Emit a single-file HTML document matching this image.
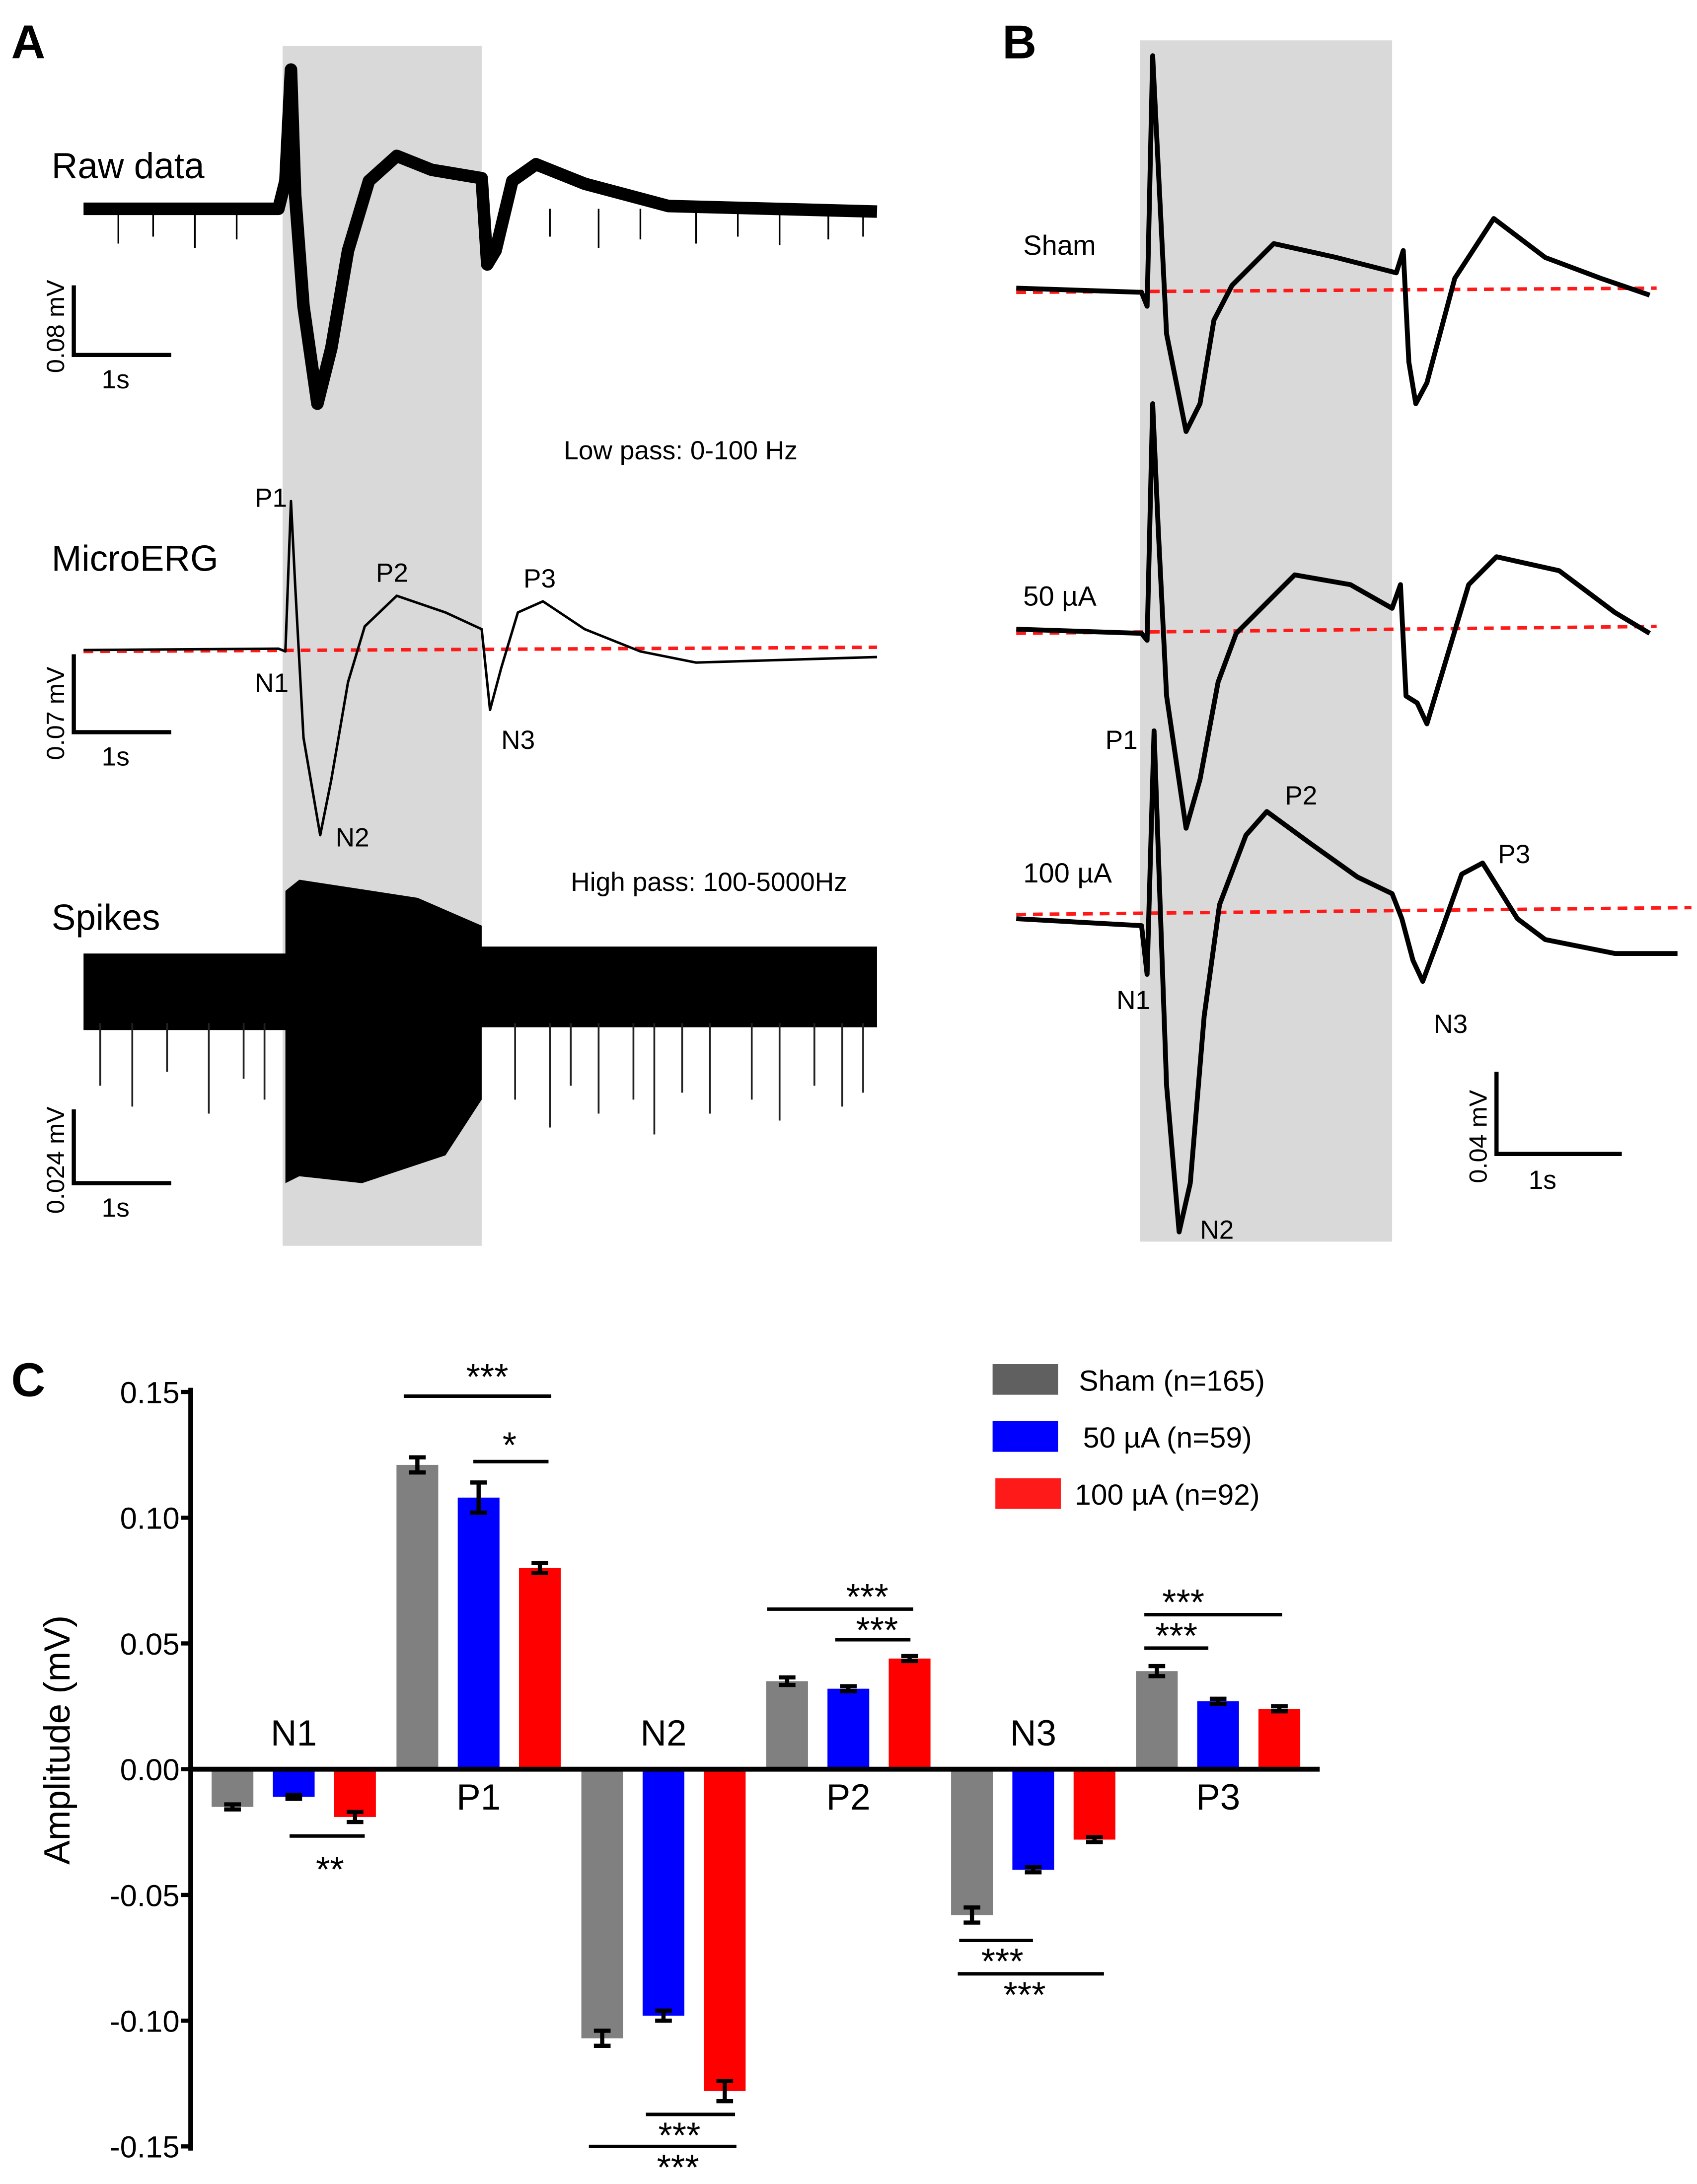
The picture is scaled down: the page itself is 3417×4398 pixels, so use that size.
<!DOCTYPE html>
<html><head><meta charset="utf-8"><style>
html,body{margin:0;padding:0;background:#fff}
svg{display:block}
text{font-family:"Liberation Sans",Arial,sans-serif;fill:#000}
</style></head><body>
<svg id="fig" width="3417" height="4398" viewBox="0 0 1219 1569" xmlns="http://www.w3.org/2000/svg">
<rect width="1219" height="1569" fill="#fff"/>
<g id="panelA">
<text x="8" y="42" font-size="34" font-weight="bold">A</text>
<rect x="203" y="33" width="143" height="862" fill="#d9d9d9"/>
<text x="37" y="128" font-size="26">Raw data</text>
<text x="37" y="410" font-size="26">MicroERG</text>
<text x="37" y="668" font-size="26">Spikes</text>
<text x="405" y="330" font-size="19">Low pass: 0-100 Hz</text>
<text x="410" y="640" font-size="19">High pass: 100-5000Hz</text>
<text x="183" y="364" font-size="19">P1</text>
<text x="183" y="497" font-size="19">N1</text>
<text x="270" y="418" font-size="19">P2</text>
<text x="241" y="608" font-size="19">N2</text>
<text x="376" y="422" font-size="19">P3</text>
<text x="360" y="538" font-size="19">N3</text>
<g id="rawTrace"></g>
<g id="ergTrace"></g>
<g id="spikeTrace"></g>
<g stroke="#000" stroke-width="3" fill="none">
<path d="M53,205 V255 H123"/><path d="M53,470 V526 H123"/><path d="M53,797 V850 H123"/>
</g>
<text x="73" y="279" font-size="19">1s</text>
<text x="73" y="550" font-size="19">1s</text>
<text x="73" y="874" font-size="19">1s</text>
<text transform="translate(46,268) rotate(-90)" font-size="18">0.08 mV</text>
<text transform="translate(46,546) rotate(-90)" font-size="18">0.07 mV</text>
<text transform="translate(46,872) rotate(-90)" font-size="18">0.024 mV</text>
</g>
<g id="panelB">
<text x="720" y="42" font-size="34" font-weight="bold">B</text>
<rect x="819" y="29" width="181" height="863" fill="#d9d9d9"/>
<text x="735" y="183" font-size="20">Sham</text>
<text x="735" y="435" font-size="20">50 µA</text>
<text x="735" y="634" font-size="20">100 µA</text>
<text x="794" y="538" font-size="19">P1</text>
<text x="802" y="725" font-size="19">N1</text>
<text x="923" y="578" font-size="19">P2</text>
<text x="862" y="890" font-size="19">N2</text>
<text x="1076" y="620" font-size="19">P3</text>
<text x="1030" y="742" font-size="19">N3</text>
<g id="bTraces"></g>
<path d="M1075,770 V829 H1165" stroke="#000" stroke-width="3" fill="none"/>
<text x="1098" y="854" font-size="19">1s</text>
<text transform="translate(1068,850) rotate(-90)" font-size="18">0.04 mV</text>
</g>
<g id="panelC">
<text x="8" y="1003" font-size="34" font-weight="bold">C</text>
<text transform="translate(50,1250) rotate(-90)" text-anchor="middle" font-size="26">Amplitude (mV)</text>
<g id="bars"></g>
<g id="axes"></g>
<g id="sig"></g>
<g>
<rect x="713" y="980" width="47" height="22" fill="#606060"/>
<text x="775" y="999" font-size="21">Sham (n=165)</text>
<rect x="713" y="1021" width="47" height="22" fill="#0000ff"/>
<text x="778" y="1040" font-size="21">50 µA (n=59)</text>
<rect x="715" y="1062" width="47" height="22" fill="#ff1a1a"/>
<text x="772" y="1081" font-size="21">100 µA (n=92)</text>
</g>
</g>
</svg>
<script>
const categories = ["N1","P1","N2","P2","N3","P3"];
const shamValues = [-0.015, 0.121, -0.107, 0.035, -0.058, 0.039];
const ua50Values = [-0.011, 0.108, -0.098, 0.032, -0.040, 0.027];
const ua100Values = [-0.019, 0.080, -0.128, 0.044, -0.028, 0.024];
const shamErr = [0.001, 0.003, 0.003, 0.0015, 0.003, 0.002];
const ua50Err = [0.0008, 0.006, 0.002, 0.001, 0.001, 0.001];
const ua100Err = [0.002, 0.002, 0.004, 0.001, 0.001, 0.001];
const tickValues = [0.15, 0.10, 0.05, 0.00, -0.05, -0.10, -0.15];
const tickLabels = ["0.15","0.10","0.05","0.00","-0.05","-0.10","-0.15"];

const NS = "http://www.w3.org/2000/svg";
function mk(tag, attrs, parent){const e=document.createElementNS(NS,tag);for(const k in attrs)e.setAttribute(k,attrs[k]);parent.appendChild(e);return e;}
const y0=1271, pxPerUnit=(1271-1000)/0.15;
const yScale=v=>y0-v*pxPerUnit;
const groupX=i=>152+i*132.8;
const barW=30, barGap=44;
const series=[{v:shamValues,e:shamErr,c:"#808080",n:"sham"},{v:ua50Values,e:ua50Err,c:"#0000ff",n:"50ua"},{v:ua100Values,e:ua100Err,c:"#ff0000",n:"100ua"}];
const barsG=document.getElementById("bars");
categories.forEach((cat,i)=>{
  series.forEach((s,j)=>{
    const x=groupX(i)+j*barGap, v=s.v[i], yv=yScale(v);
    const r=mk("rect",{x:x,y:Math.min(yv,y0),width:barW,height:Math.abs(yv-y0),fill:s.c},barsG);
    
    
    const cx=x+barW/2, ya=yScale(v+s.e[i]), yb=yScale(v-s.e[i]);
    const eb=mk("path",{d:`M${cx},${ya}V${yb}M${cx-6},${ya}H${cx+6}M${cx-6},${yb}H${cx+6}`,stroke:"#000","stroke-width":3,fill:"none"},barsG);
    
    
  });
  const pos=shamValues[i]>0;
  const t=mk("text",{x:groupX(i)+barGap+barW/2,y:pos?1300:1254,"text-anchor":"middle","font-size":26},barsG);
  t.textContent=cat;
  
  
});
const axG=document.getElementById("axes");
const ya=mk("path",{d:`M137,${yScale(0.15)-3}V${yScale(-0.15)+3}`,stroke:"#000","stroke-width":3.5},axG);


const xa=mk("path",{d:`M137,${y0}H948`,stroke:"#000","stroke-width":3.5},axG);


tickValues.forEach((v,i)=>{
  const y=yScale(v);
  const tk=mk("path",{d:`M130,${y}H137`,stroke:"#000","stroke-width":3},axG);
  
  
  const t=mk("text",{x:129,y:y+8,"text-anchor":"end","font-size":22},axG);
  t.textContent=tickLabels[i];
  
  
});
const sigG=document.getElementById("sig");
const sigs=[[290,396,1003,"***",350,998],[340,394,1050,"*",366,1047],[208,262,1319,"**",237,1352],[551,656,1156,"***",623,1156],[600,654,1178,"***",630,1180],[822,868,1184,"***",845,1184],[822,921,1160,"***",850,1160],[689,742,1394,"***",720,1418],[688,793,1418,"***",736,1442],[464,528,1519,"***",488,1543],[423,529,1542,"***",487,1566]];
sigs.forEach(s=>{
  const l=mk("path",{d:`M${s[0]},${s[2]}H${s[1]}`,stroke:"#000","stroke-width":2.5},sigG);
  
  
  const t=mk("text",{x:s[4],y:s[5],"text-anchor":"middle","font-size":26},sigG);
  t.textContent=s[3];
  
  
});

const rawPts=[[60,150],[200,150],[205,130],[209,50],[212,140],[218,220],[228,290],[238,250],[250,180],[265,130],[285,112],[310,122],[346,128],[350,190],[356,180],[368,130],[385,118],[420,132],[480,148],[630,152]];
const ergPts=[[60,467],[200,466],[205,468],[209,360],[212,420],[218,530],[230,600],[238,560],[250,490],[262,450],[285,428],[320,440],[346,452],[352,510],[360,480],[372,440],[390,432],[420,452],[460,468],[500,476],[630,472]];
const bSham=[[730,207],[820,210],[824,220],[828,40],[832,120],[838,240],[852,310],[862,290],[872,230],[885,205],[915,175],[960,185],[1003,196],[1008,180],[1012,260],[1017,290],[1025,275],[1045,200],[1073,157],[1110,185],[1150,200],[1185,212]];
const b50=[[730,452],[820,455],[824,460],[828,290],[832,380],[838,500],[852,595],[862,560],[875,490],[888,455],[930,413],[970,420],[1000,437],[1006,420],[1010,500],[1018,505],[1025,520],[1040,470],[1055,420],[1075,400],[1120,410],[1160,440],[1185,455]];
const b100=[[730,660],[820,665],[824,700],[829,525],[833,640],[838,780],[847,885],[855,850],[865,730],[876,650],[895,600],[910,583],[940,605],[975,630],[1000,642],[1007,660],[1015,690],[1022,705],[1035,670],[1050,628],[1065,620],[1090,660],[1110,675],[1160,685],[1205,685]];
function line(g,pts,w,name){
  const p=mk("polyline",{points:pts.map(p=>p.join(",")).join(" "),fill:"none",stroke:"#000","stroke-width":w,"stroke-linejoin":"round"},g);
  
  
}
function dash(g,x1,y1,x2,y2,name){
  const d=mk("line",{x1:x1,y1:y1,x2:x2,y2:y2,stroke:"#ff1a1a","stroke-width":2.5,"stroke-dasharray":"7,5"},g);
  
  
}
const rg=document.getElementById("rawTrace");
line(rg,rawPts,9,"raw-data-line");
const rawSpikes=[[85,175],[110,170],[140,178],[170,172],[395,170],[430,178],[460,172],[500,175],[530,170],[560,176],[595,172],[620,170]];
rawSpikes.forEach(s=>{
  const l=mk("line",{x1:s[0],y1:150,x2:s[0],y2:s[1],stroke:"#000","stroke-width":1.2},rg);
  
  
});
const eg=document.getElementById("ergTrace");
dash(eg,60,468,630,465,"baseline-a");
line(eg,ergPts,1.8,"microerg-line");
const sg=document.getElementById("spikeTrace");
const band=mk("path",{d:"M60,685 H205 V640 L215,632 L300,645 L346,665 V680 H630 V738 H346 V790 L320,830 L260,850 L215,845 L205,850 V740 H60 Z",fill:"#000"},sg);


const spikeLines=[[72,780],[95,795],[120,770],[150,800],[175,775],[190,790],[370,790],[395,810],[410,780],[430,800],[455,790],[470,815],[490,785],[510,800],[540,790],[560,805],[585,780],[605,795],[620,785]];
spikeLines.forEach(s=>{
  const l=mk("line",{x1:s[0],y1:735,x2:s[0],y2:s[1],stroke:"#222","stroke-width":1.3},sg);
  
  
});
const bg=document.getElementById("bTraces");
dash(bg,730,210,1190,207,"baseline-sham");
dash(bg,730,455,1190,450,"baseline-50ua");
dash(bg,730,657,1215,652,"baseline-100ua");
line(bg,bSham,3.5,"sham-trace");
line(bg,b50,3.5,"50ua-trace");
line(bg,b100,3.5,"100ua-trace");
</script>
</body></html>
